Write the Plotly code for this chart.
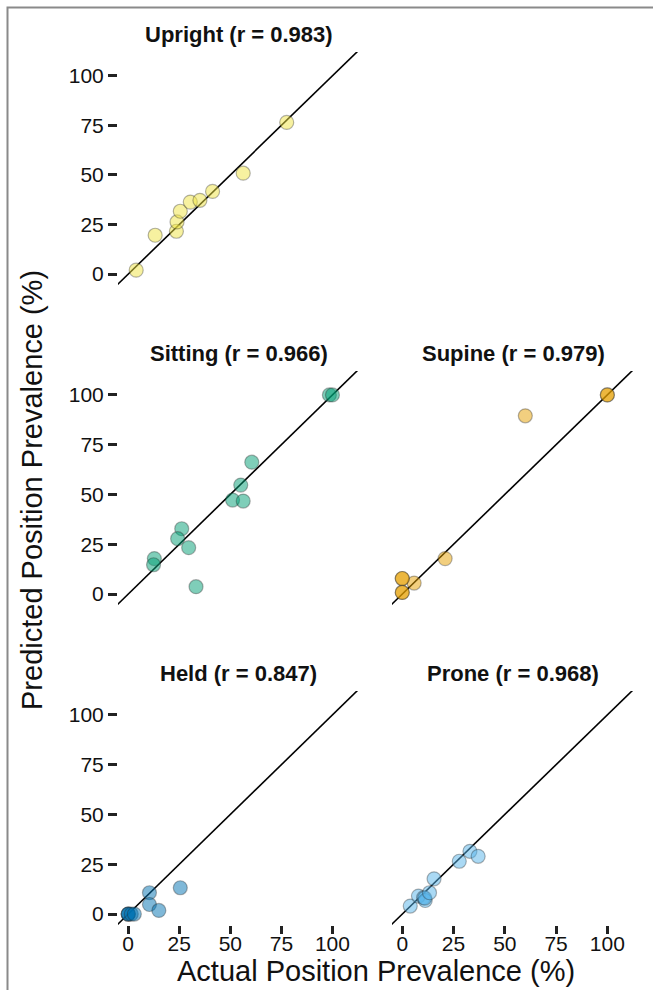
import plotly.graph_objects as go

# ---- data ----
upright_actual = [3.9, 13.2, 23.6, 23.9, 25.5, 30.4, 35.1, 41.3, 56.3, 77.6]
upright_pred = [2.0, 19.6, 21.6, 26.3, 31.7, 36.3, 37.2, 41.7, 50.9, 76.5]

sitting_actual = [98.5, 100, 60.5, 55.1, 51.1, 56.3, 26.2, 24.2, 29.6, 12.8, 12.4, 33.2]
sitting_pred = [100, 100, 66.2, 54.7, 47.2, 46.7, 32.8, 27.8, 23.3, 17.8, 14.7, 3.7]

supine_actual = [100, 100, 60, 20.9, 5.8, 0, 0, 0, 0]
supine_pred = [100, 100, 89.5, 17.8, 5.5, 7.8, 7.8, 0.8, 0.8]

held_actual = [10.4, 25.5, 10.4, 15.0, 0, 0, 0, 1.5, 3.0]
held_pred = [10.7, 13.2, 4.8, 1.8, 0, 0, 0, 0, 0]

prone_actual = [3.9, 7.9, 10.4, 11.2, 11.0, 13.3, 15.5, 27.8, 33.0, 37.0]
prone_pred = [4.0, 9.0, 8.2, 6.8, 8.0, 10.7, 17.7, 26.5, 31.5, 29.0]

panel_names = ["Upright", "Sitting", "Supine", "Held", "Prone"]
panel_r = ["0.983", "0.966", "0.979", "0.847", "0.968"]
panel_colors = ["#F0E442", "#009E73", "#E69F00", "#0072B2", "#56B4E9"]
tick_vals = [0, 25, 50, 75, 100]
tick_text = ["0", "25", "50", "75", "100"]

W, H = 654, 990
X_RANGE = [-5, 113]
Y_RANGE = [-5.5, 112]

# panel pixel boxes (left, right, top, bottom)
col_px = [(118, 359), (392, 634)]
row_px = [(52, 285), (371, 605), (691, 925)]
# (row, col) for each panel
panel_pos = [(0, 0), (1, 0), (1, 1), (2, 0), (2, 1)]
data = [(upright_actual, upright_pred), (sitting_actual, sitting_pred),
        (supine_actual, supine_pred), (held_actual, held_pred),
        (prone_actual, prone_pred)]


def hex_rgba(h, a):
    h = h.lstrip("#")
    return "rgba(%d,%d,%d,%s)" % (int(h[0:2], 16), int(h[2:4], 16), int(h[4:6], 16), a)


fig = go.Figure()
FONT = "Liberation Sans, Arial, Helvetica, sans-serif"
annotations = []

for i, (name, r, col, (xs, ys), (ri, ci)) in enumerate(zip(panel_names, panel_r, panel_colors, data, panel_pos)):
    n = "" if i == 0 else str(i + 1)
    xa = "x" + n
    ya = "y" + n
    # identity line
    lo, hi = -20, 130
    fig.add_trace(go.Scatter(x=[lo, hi], y=[lo, hi], mode="lines",
                             line=dict(color="black", width=1.6),
                             xaxis=xa, yaxis=ya, showlegend=False, hoverinfo="skip"))
    fig.add_trace(go.Scatter(x=xs, y=ys, mode="markers",
                             marker=dict(size=14, color=hex_rgba(col, 0.5),
                                         line=dict(color="rgba(40,40,40,0.35)", width=1.2)),
                             xaxis=xa, yaxis=ya, showlegend=False, cliponaxis=False))
    l, rr = col_px[ci]
    t, b = row_px[ri]
    xdom = [l / W, rr / W]
    ydom = [1 - b / H, 1 - t / H]
    show_x = ri == 2
    show_y = ci == 0
    fig.layout["xaxis" + n] = dict(
        domain=xdom, range=X_RANGE, anchor=ya, showgrid=False, zeroline=False,
        showline=False, tickmode="array", tickvals=tick_vals, ticktext=tick_text,
        showticklabels=show_x, ticks="outside" if show_x else "", ticklen=8,
        tickwidth=2.5, tickcolor="#222", automargin=False, ticklabelstandoff=-8,
        tickfont=dict(family=FONT, size=21, color="#111"))
    fig.layout["yaxis" + n] = dict(
        domain=ydom, range=Y_RANGE, anchor=xa, showgrid=False, zeroline=False,
        showline=False, tickmode="array", tickvals=tick_vals, ticktext=tick_text,
        showticklabels=show_y, ticks="outside" if show_y else "", ticklen=9,
        tickwidth=2.5, tickcolor="#222", automargin=False,
        tickfont=dict(family=FONT, size=21, color="#111"))
    annotations.append(dict(
        text="<b>%s (r = %s)</b>" % (name, r), xref="paper", yref="paper",
        x=(xdom[0] + xdom[1]) / 2, y=ydom[1] + 18 / H, xanchor="center",
        yanchor="middle", showarrow=False,
        font=dict(family=FONT, size=22, color="#111")))

annotations.append(dict(
    text="Actual Position Prevalence (%)", xref="paper", yref="paper",
    x=376 / W, y=1 - 971 / H, xanchor="center", yanchor="middle", showarrow=False,
    font=dict(family=FONT, size=29, color="#111")))
annotations.append(dict(
    text="Predicted Position Prevalence (%)", xref="paper", yref="paper",
    x=32 / W, y=1 - 490 / H, xanchor="center", yanchor="middle", showarrow=False,
    textangle=-90, font=dict(family=FONT, size=29, color="#111")))

# outer frame (left and top edges)
fig.add_shape(type="path", xref="paper", yref="paper",
              path="M %f,0 L %f,%f L %f,%f" % (7.5 / W, 7.5 / W, 1 - 7.5 / H, 653 / W, 1 - 7.5 / H),
              line=dict(color="#8a8a8a", width=2))

fig.update_layout(
    width=W, height=H, margin=dict(l=0, r=0, t=0, b=0, autoexpand=False),
    paper_bgcolor="white", plot_bgcolor="white", annotations=annotations,
    showlegend=False, font=dict(family=FONT))

fig.write_html("out.html", config={"displayModeBar": False},
               post_script="document.body.style.margin='0';document.body.style.overflow='hidden';")
